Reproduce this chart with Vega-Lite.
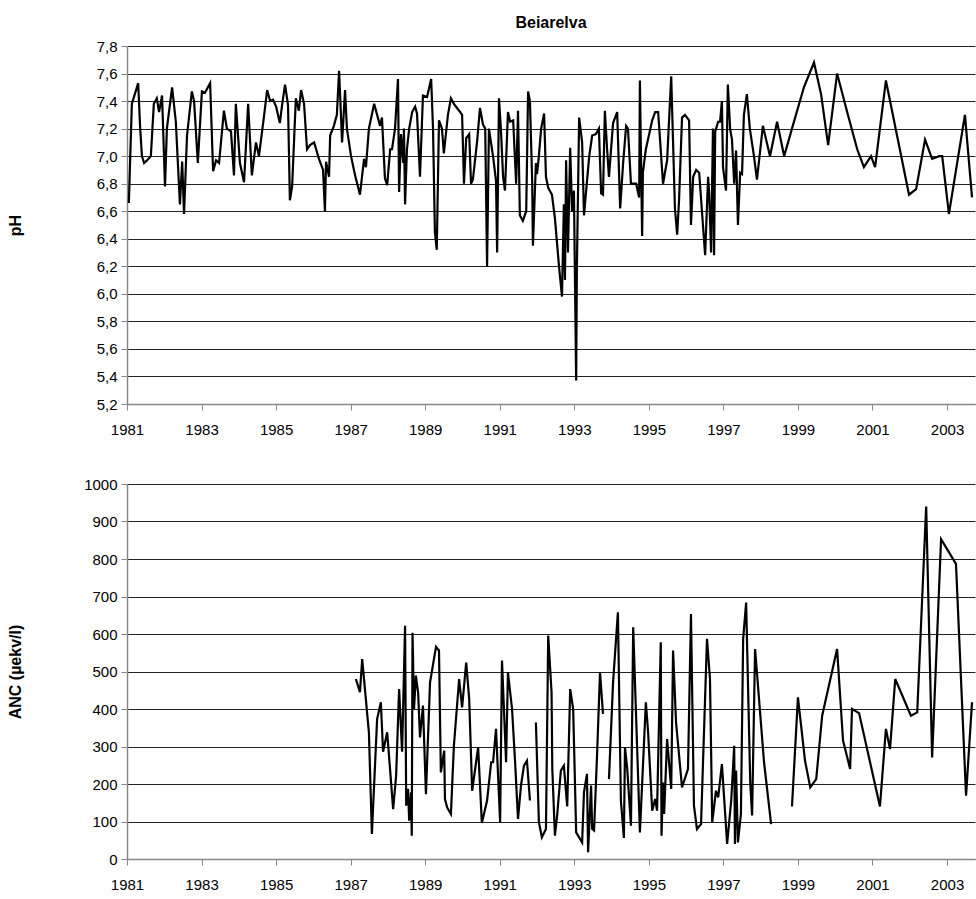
{
  "$schema": "https://vega.github.io/schema/vega-lite/v6.json",
  "background": "white",
  "padding": {"left": 7, "top": 15, "right": 0, "bottom": 0},
  "datasets": {
    "ph": [
      {"year":1981.05,"pH":6.66},{"year":1981.13,"pH":7.38},{"year":1981.30,"pH":7.53},{"year":1981.35,"pH":7.22},{"year":1981.40,"pH":7.0},{"year":1981.46,"pH":6.95},{"year":1981.54,"pH":6.97},{"year":1981.64,"pH":7.0},{"year":1981.72,"pH":7.38},{"year":1981.80,"pH":7.42},{"year":1981.86,"pH":7.32},{"year":1981.94,"pH":7.44},{"year":1982.02,"pH":6.78},{"year":1982.07,"pH":7.2},{"year":1982.21,"pH":7.5},{"year":1982.31,"pH":7.25},{"year":1982.42,"pH":6.65},{"year":1982.48,"pH":6.96},{"year":1982.53,"pH":6.58},{"year":1982.61,"pH":7.15},{"year":1982.74,"pH":7.47},{"year":1982.80,"pH":7.4},{"year":1982.90,"pH":6.95},{"year":1983.01,"pH":7.47},{"year":1983.09,"pH":7.46},{"year":1983.23,"pH":7.53},{"year":1983.31,"pH":6.89},{"year":1983.39,"pH":6.97},{"year":1983.47,"pH":6.95},{"year":1983.60,"pH":7.33},{"year":1983.68,"pH":7.2},{"year":1983.79,"pH":7.18},{"year":1983.87,"pH":6.86},{"year":1983.92,"pH":7.38},{"year":1984.03,"pH":6.95},{"year":1984.14,"pH":6.81},{"year":1984.25,"pH":7.38},{"year":1984.35,"pH":6.86},{"year":1984.46,"pH":7.1},{"year":1984.54,"pH":7.0},{"year":1984.68,"pH":7.3},{"year":1984.76,"pH":7.48},{"year":1984.84,"pH":7.4},{"year":1984.92,"pH":7.41},{"year":1985.00,"pH":7.36},{"year":1985.10,"pH":7.24},{"year":1985.16,"pH":7.37},{"year":1985.24,"pH":7.52},{"year":1985.32,"pH":7.37},{"year":1985.37,"pH":6.68},{"year":1985.43,"pH":6.78},{"year":1985.53,"pH":7.42},{"year":1985.61,"pH":7.33},{"year":1985.67,"pH":7.48},{"year":1985.75,"pH":7.38},{"year":1985.83,"pH":7.05},{"year":1985.91,"pH":7.08},{"year":1986.02,"pH":7.1},{"year":1986.15,"pH":6.98},{"year":1986.26,"pH":6.9},{"year":1986.31,"pH":6.6},{"year":1986.34,"pH":6.96},{"year":1986.42,"pH":6.85},{"year":1986.45,"pH":7.15},{"year":1986.55,"pH":7.22},{"year":1986.63,"pH":7.3},{"year":1986.69,"pH":7.62},{"year":1986.77,"pH":7.1},{"year":1986.85,"pH":7.48},{"year":1986.90,"pH":7.2},{"year":1987.01,"pH":7.0},{"year":1987.12,"pH":6.86},{"year":1987.25,"pH":6.72},{"year":1987.36,"pH":6.98},{"year":1987.41,"pH":6.92},{"year":1987.49,"pH":7.2},{"year":1987.63,"pH":7.38},{"year":1987.71,"pH":7.3},{"year":1987.79,"pH":7.22},{"year":1987.84,"pH":7.28},{"year":1987.92,"pH":6.84},{"year":1987.98,"pH":6.79},{"year":1988.06,"pH":7.05},{"year":1988.11,"pH":7.05},{"year":1988.19,"pH":7.2},{"year":1988.27,"pH":7.56},{"year":1988.30,"pH":6.74},{"year":1988.35,"pH":7.16},{"year":1988.41,"pH":6.95},{"year":1988.43,"pH":7.2},{"year":1988.46,"pH":6.65},{"year":1988.51,"pH":7.05},{"year":1988.57,"pH":7.2},{"year":1988.65,"pH":7.32},{"year":1988.73,"pH":7.36},{"year":1988.78,"pH":7.31},{"year":1988.86,"pH":6.85},{"year":1988.94,"pH":7.44},{"year":1989.05,"pH":7.43},{"year":1989.16,"pH":7.56},{"year":1989.21,"pH":7.2},{"year":1989.26,"pH":6.45},{"year":1989.31,"pH":6.32},{"year":1989.37,"pH":7.26},{"year":1989.45,"pH":7.2},{"year":1989.50,"pH":7.02},{"year":1989.61,"pH":7.3},{"year":1989.69,"pH":7.42},{"year":1989.77,"pH":7.38},{"year":1989.91,"pH":7.33},{"year":1989.99,"pH":7.3},{"year":1990.04,"pH":6.8},{"year":1990.10,"pH":7.13},{"year":1990.18,"pH":7.16},{"year":1990.23,"pH":6.8},{"year":1990.28,"pH":6.83},{"year":1990.39,"pH":7.1},{"year":1990.47,"pH":7.35},{"year":1990.55,"pH":7.23},{"year":1990.61,"pH":7.2},{"year":1990.66,"pH":6.2},{"year":1990.71,"pH":7.2},{"year":1990.82,"pH":7.0},{"year":1990.90,"pH":6.82},{"year":1990.93,"pH":6.3},{"year":1990.98,"pH":7.42},{"year":1991.03,"pH":7.2},{"year":1991.09,"pH":6.85},{"year":1991.14,"pH":6.75},{"year":1991.22,"pH":7.32},{"year":1991.28,"pH":7.25},{"year":1991.36,"pH":7.26},{"year":1991.44,"pH":6.8},{"year":1991.49,"pH":7.33},{"year":1991.54,"pH":6.57},{"year":1991.62,"pH":6.53},{"year":1991.71,"pH":6.6},{"year":1991.76,"pH":7.47},{"year":1991.81,"pH":7.4},{"year":1991.87,"pH":6.82},{"year":1991.89,"pH":6.35},{"year":1991.97,"pH":6.95},{"year":1992.00,"pH":6.87},{"year":1992.05,"pH":7.0},{"year":1992.11,"pH":7.2},{"year":1992.19,"pH":7.31},{"year":1992.24,"pH":6.85},{"year":1992.30,"pH":6.77},{"year":1992.40,"pH":6.72},{"year":1992.48,"pH":6.55},{"year":1992.59,"pH":6.2},{"year":1992.67,"pH":5.98},{"year":1992.72,"pH":6.65},{"year":1992.75,"pH":6.1},{"year":1992.78,"pH":6.97},{"year":1992.83,"pH":6.3},{"year":1992.89,"pH":7.06},{"year":1992.94,"pH":6.6},{"year":1992.99,"pH":6.75},{"year":1993.05,"pH":5.37},{"year":1993.07,"pH":6.2},{"year":1993.13,"pH":7.28},{"year":1993.21,"pH":7.1},{"year":1993.26,"pH":6.57},{"year":1993.40,"pH":7.0},{"year":1993.48,"pH":7.15},{"year":1993.58,"pH":7.16},{"year":1993.66,"pH":7.2},{"year":1993.72,"pH":6.73},{"year":1993.77,"pH":6.72},{"year":1993.82,"pH":7.33},{"year":1993.88,"pH":7.05},{"year":1993.93,"pH":6.85},{"year":1994.04,"pH":7.24},{"year":1994.15,"pH":7.32},{"year":1994.23,"pH":6.62},{"year":1994.31,"pH":6.95},{"year":1994.39,"pH":7.22},{"year":1994.44,"pH":7.2},{"year":1994.52,"pH":6.8},{"year":1994.66,"pH":6.8},{"year":1994.74,"pH":6.7},{"year":1994.76,"pH":7.55},{"year":1994.82,"pH":6.42},{"year":1994.84,"pH":6.88},{"year":1994.92,"pH":7.05},{"year":1995.09,"pH":7.26},{"year":1995.17,"pH":7.32},{"year":1995.25,"pH":7.32},{"year":1995.38,"pH":6.8},{"year":1995.49,"pH":6.97},{"year":1995.60,"pH":7.58},{"year":1995.70,"pH":6.62},{"year":1995.76,"pH":6.43},{"year":1995.81,"pH":6.68},{"year":1995.89,"pH":7.28},{"year":1995.97,"pH":7.3},{"year":1996.08,"pH":7.26},{"year":1996.13,"pH":6.5},{"year":1996.19,"pH":6.85},{"year":1996.27,"pH":6.9},{"year":1996.35,"pH":6.88},{"year":1996.43,"pH":6.58},{"year":1996.51,"pH":6.28},{"year":1996.59,"pH":6.85},{"year":1996.62,"pH":6.72},{"year":1996.67,"pH":6.3},{"year":1996.72,"pH":7.2},{"year":1996.75,"pH":6.28},{"year":1996.78,"pH":7.18},{"year":1996.86,"pH":7.25},{"year":1996.91,"pH":7.25},{"year":1996.96,"pH":7.4},{"year":1996.99,"pH":6.92},{"year":1997.07,"pH":6.75},{"year":1997.12,"pH":7.52},{"year":1997.18,"pH":7.2},{"year":1997.23,"pH":7.12},{"year":1997.29,"pH":6.8},{"year":1997.34,"pH":7.04},{"year":1997.39,"pH":6.5},{"year":1997.45,"pH":6.88},{"year":1997.50,"pH":6.87},{"year":1997.55,"pH":7.3},{"year":1997.63,"pH":7.45},{"year":1997.71,"pH":7.2},{"year":1997.82,"pH":7.0},{"year":1997.90,"pH":6.83},{"year":1998.06,"pH":7.22},{"year":1998.25,"pH":7.0},{"year":1998.44,"pH":7.25},{"year":1998.63,"pH":7.0},{"year":1998.84,"pH":7.2},{"year":1999.16,"pH":7.5},{"year":1999.43,"pH":7.68},{"year":1999.62,"pH":7.45},{"year":1999.81,"pH":7.08},{"year":2000.05,"pH":7.6},{"year":2000.34,"pH":7.3},{"year":2000.59,"pH":7.05},{"year":2000.77,"pH":6.92},{"year":2000.96,"pH":7.0},{"year":2001.07,"pH":6.92},{"year":2001.36,"pH":7.55},{"year":2001.98,"pH":6.72},{"year":2002.17,"pH":6.76},{"year":2002.41,"pH":7.12},{"year":2002.60,"pH":6.98},{"year":2002.79,"pH":7.0},{"year":2002.87,"pH":7.0},{"year":2003.05,"pH":6.58},{"year":2003.48,"pH":7.3},{"year":2003.67,"pH":6.7}
    ],
    "anc": [
      {"year":1987.14,"anc":480,"seg":1},{"year":1987.25,"anc":445,"seg":1},{"year":1987.31,"anc":533,"seg":1},{"year":1987.49,"anc":337,"seg":1},{"year":1987.57,"anc":67,"seg":1},{"year":1987.71,"anc":373,"seg":1},{"year":1987.81,"anc":418,"seg":1},{"year":1987.87,"anc":286,"seg":1},{"year":1987.98,"anc":338,"seg":1},{"year":1988.14,"anc":133,"seg":1},{"year":1988.22,"anc":222,"seg":1},{"year":1988.30,"anc":453,"seg":1},{"year":1988.38,"anc":286,"seg":1},{"year":1988.46,"anc":622,"seg":1},{"year":1988.49,"anc":142,"seg":1},{"year":1988.54,"anc":187,"seg":1},{"year":1988.57,"anc":102,"seg":1},{"year":1988.62,"anc":178,"seg":1},{"year":1988.64,"anc":62,"seg":1},{"year":1988.66,"anc":603,"seg":1},{"year":1988.70,"anc":400,"seg":1},{"year":1988.75,"anc":489,"seg":1},{"year":1988.81,"anc":444,"seg":1},{"year":1988.86,"anc":324,"seg":1},{"year":1988.94,"anc":409,"seg":1},{"year":1989.02,"anc":173,"seg":1},{"year":1989.13,"anc":471,"seg":1},{"year":1989.29,"anc":566,"seg":1},{"year":1989.37,"anc":556,"seg":1},{"year":1989.42,"anc":231,"seg":1},{"year":1989.51,"anc":289,"seg":1},{"year":1989.53,"anc":160,"seg":1},{"year":1989.59,"anc":137,"seg":1},{"year":1989.69,"anc":120,"seg":1},{"year":1989.77,"anc":302,"seg":1},{"year":1989.91,"anc":480,"seg":1},{"year":1989.99,"anc":404,"seg":1},{"year":1990.10,"anc":524,"seg":1},{"year":1990.18,"anc":427,"seg":1},{"year":1990.26,"anc":182,"seg":1},{"year":1990.42,"anc":298,"seg":1},{"year":1990.52,"anc":96,"seg":1},{"year":1990.66,"anc":156,"seg":1},{"year":1990.77,"anc":258,"seg":1},{"year":1990.82,"anc":258,"seg":1},{"year":1990.90,"anc":347,"seg":1},{"year":1991.01,"anc":98,"seg":1},{"year":1991.06,"anc":529,"seg":1},{"year":1991.17,"anc":258,"seg":1},{"year":1991.22,"anc":498,"seg":1},{"year":1991.33,"anc":400,"seg":1},{"year":1991.41,"anc":262,"seg":1},{"year":1991.49,"anc":107,"seg":1},{"year":1991.57,"anc":196,"seg":1},{"year":1991.65,"anc":249,"seg":1},{"year":1991.73,"anc":262,"seg":1},{"year":1991.81,"anc":156,"seg":1},
      {"year":1991.97,"anc":364,"seg":2},{"year":1992.05,"anc":98,"seg":2},{"year":1992.13,"anc":58,"seg":2},{"year":1992.24,"anc":80,"seg":2},{"year":1992.30,"anc":596,"seg":2},{"year":1992.39,"anc":444,"seg":2},{"year":1992.41,"anc":240,"seg":2},{"year":1992.48,"anc":62,"seg":2},{"year":1992.54,"anc":116,"seg":2},{"year":1992.64,"anc":236,"seg":2},{"year":1992.72,"anc":249,"seg":2},{"year":1992.81,"anc":140,"seg":2},{"year":1992.89,"anc":453,"seg":2},{"year":1992.97,"anc":400,"seg":2},{"year":1993.05,"anc":71,"seg":2},{"year":1993.21,"anc":44,"seg":2},{"year":1993.26,"anc":178,"seg":2},{"year":1993.34,"anc":227,"seg":2},{"year":1993.37,"anc":18,"seg":2},{"year":1993.45,"anc":196,"seg":2},{"year":1993.48,"anc":80,"seg":2},{"year":1993.53,"anc":76,"seg":2},{"year":1993.61,"anc":276,"seg":2},{"year":1993.69,"anc":498,"seg":2},{"year":1993.77,"anc":387,"seg":2},
      {"year":1993.93,"anc":213,"seg":3},{"year":1994.04,"anc":471,"seg":3},{"year":1994.17,"anc":658,"seg":3},{"year":1994.25,"anc":156,"seg":3},{"year":1994.33,"anc":56,"seg":3},{"year":1994.36,"anc":298,"seg":3},{"year":1994.42,"anc":240,"seg":3},{"year":1994.52,"anc":89,"seg":3},{"year":1994.58,"anc":618,"seg":3},{"year":1994.76,"anc":71,"seg":3},{"year":1994.92,"anc":418,"seg":3},{"year":1994.98,"anc":338,"seg":3},{"year":1995.09,"anc":129,"seg":3},{"year":1995.17,"anc":160,"seg":3},{"year":1995.22,"anc":129,"seg":3},{"year":1995.32,"anc":578,"seg":3},{"year":1995.34,"anc":62,"seg":3},{"year":1995.38,"anc":204,"seg":3},{"year":1995.41,"anc":120,"seg":3},{"year":1995.49,"anc":320,"seg":3},{"year":1995.60,"anc":187,"seg":3},{"year":1995.65,"anc":556,"seg":3},{"year":1995.73,"anc":364,"seg":3},{"year":1995.89,"anc":191,"seg":3},{"year":1996.05,"anc":240,"seg":3},{"year":1996.13,"anc":653,"seg":3},{"year":1996.21,"anc":142,"seg":3},{"year":1996.29,"anc":80,"seg":3},{"year":1996.40,"anc":93,"seg":3},{"year":1996.56,"anc":587,"seg":3},{"year":1996.64,"anc":480,"seg":3},{"year":1996.70,"anc":98,"seg":3},{"year":1996.80,"anc":182,"seg":3},{"year":1996.86,"anc":164,"seg":3},{"year":1996.96,"anc":253,"seg":3},{"year":1997.10,"anc":40,"seg":3},{"year":1997.21,"anc":156,"seg":3},{"year":1997.29,"anc":302,"seg":3},{"year":1997.31,"anc":40,"seg":3},{"year":1997.34,"anc":236,"seg":3},{"year":1997.39,"anc":44,"seg":3},{"year":1997.47,"anc":120,"seg":3},{"year":1997.53,"anc":587,"seg":3},{"year":1997.61,"anc":684,"seg":3},{"year":1997.72,"anc":204,"seg":3},{"year":1997.77,"anc":116,"seg":3},{"year":1997.85,"anc":560,"seg":3},{"year":1998.09,"anc":258,"seg":3},{"year":1998.28,"anc":93,"seg":3},
      {"year":1998.84,"anc":140,"seg":4},{"year":1999.00,"anc":431,"seg":4},{"year":1999.19,"anc":262,"seg":4},{"year":1999.33,"anc":191,"seg":4},{"year":1999.49,"anc":213,"seg":4},{"year":1999.65,"anc":382,"seg":4},{"year":2000.05,"anc":560,"seg":4},{"year":2000.21,"anc":316,"seg":4},{"year":2000.40,"anc":240,"seg":4},{"year":2000.45,"anc":400,"seg":4},{"year":2000.64,"anc":389,"seg":4},{"year":2001.20,"anc":140,"seg":4},{"year":2001.36,"anc":347,"seg":4},{"year":2001.47,"anc":293,"seg":4},{"year":2001.61,"anc":480,"seg":4},{"year":2002.03,"anc":382,"seg":4},{"year":2002.20,"anc":391,"seg":4},{"year":2002.44,"anc":940,"seg":4},{"year":2002.60,"anc":271,"seg":4},{"year":2002.84,"anc":853,"seg":4},{"year":2003.24,"anc":787,"seg":4},{"year":2003.51,"anc":169,"seg":4},{"year":2003.67,"anc":418,"seg":4}
    ]
  },
  "vconcat": [
    {
      "width": 848,
      "height": 358,
      "title": {"text": "Beiarelva", "fontSize": 16, "fontWeight": "bold", "font": "Liberation Sans", "offset": 8},
      "data": {"name": "ph"},
      "mark": {"type": "line", "color": "black", "strokeWidth": 2.2},
      "encoding": {
        "x": {"field": "year", "type": "quantitative", "scale": {"domain": [1981, 2003.75], "nice": false, "zero": false},
              "axis": {"values": [1981,1983,1985,1987,1989,1991,1993,1995,1997,1999,2001,2003], "format": "d", "title": null, "grid": false, "labelPadding": 12}},
        "y": {"field": "pH", "type": "quantitative", "scale": {"domain": [5.2, 7.8], "nice": false, "zero": false},
              "axis": {"values": [5.2,5.4,5.6,5.8,6.0,6.2,6.4,6.6,6.8,7.0,7.2,7.4,7.6,7.8], "format": ".1f", "title": "pH", "titlePadding": 73}}
      }
    },
    {
      "width": 848,
      "height": 375,
      "data": {"name": "anc"},
      "mark": {"type": "line", "color": "black", "strokeWidth": 2.2},
      "encoding": {
        "x": {"field": "year", "type": "quantitative", "scale": {"domain": [1981, 2003.75], "nice": false, "zero": false},
              "axis": {"values": [1981,1983,1985,1987,1989,1991,1993,1995,1997,1999,2001,2003], "format": "d", "title": null, "grid": false, "labelPadding": 12}},
        "y": {"field": "anc", "type": "quantitative", "scale": {"domain": [0, 1000], "nice": false},
              "axis": {"values": [0,100,200,300,400,500,600,700,800,900,1000], "format": "d", "title": "ANC (µekv/l)", "titlePadding": 60}},
        "detail": {"field": "seg", "type": "nominal"}
      }
    }
  ],
  "spacing": 40,
  "config": {
    "locale": {"number": {"decimal": ",", "thousands": " ", "grouping": [3], "currency": ["", ""]}},
    "font": "Liberation Sans",
    "view": {"stroke": null},
    "axis": {
      "labelFont": "Liberation Sans", "labelFontSize": 15, "labelColor": "black", "labelFlush": false,
      "titleFont": "Liberation Sans", "titleFontSize": 16, "titleFontWeight": "bold", "titleColor": "black",
      "gridColor": "#222", "gridWidth": 1, "domainColor": "#888", "domainWidth": 1.5,
      "tickColor": "#888", "tickSize": 6, "labelPadding": 4
    }
  }
}
